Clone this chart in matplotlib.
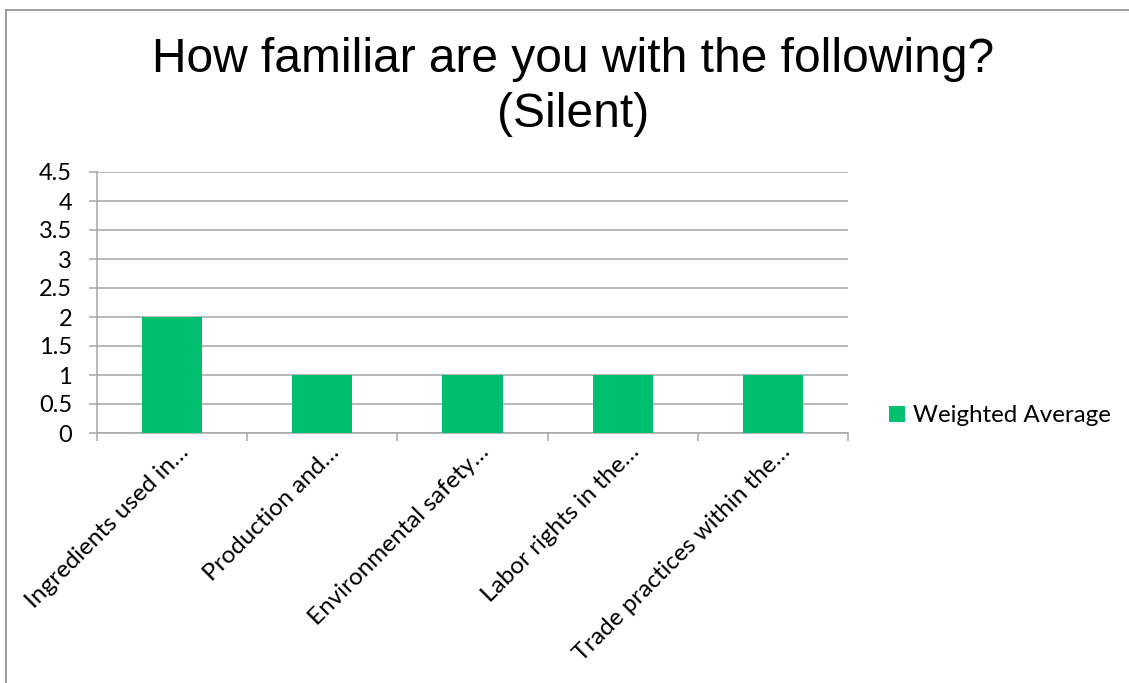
import matplotlib
matplotlib.use("Agg")
import matplotlib.pyplot as plt
import matplotlib.transforms as mtransforms
from matplotlib.lines import Line2D
import numpy as np

# chart data
categories = [
    "Ingredients used in\u2026",
    "Production and\u2026",
    "Environmental safety\u2026",
    "Labor rights in the\u2026",
    "Trade practices within the\u2026",
]
weighted_average = [2, 1, 1, 1, 1]
y_ticks = [0, 0.5, 1, 1.5, 2, 2.5, 3, 3.5, 4, 4.5]
y_tick_labels = ["0", "0.5", "1", "1.5", "2", "2.5", "3", "3.5", "4", "4.5"]

title = "How familiar are you with the following?\n(Silent)"
bar_color = "#00BF6F"
grid_color = "#A6A6A6"
label_font = ["Lato", "DejaVu Sans"]

W, H = 1129, 683
fig = plt.figure(figsize=(W / 100, H / 100), dpi=100)
fig.patch.set_facecolor("white")

# outer chart frame (only top and left visible in the reference)
fig.add_artist(Line2D([5.5 / W, 5.5 / W], [0, 1 - 9.5 / H], transform=fig.transFigure,
                      color="#8C8C8C", lw=1.2))
fig.add_artist(Line2D([5.5 / W, 1], [1 - 9.5 / H, 1 - 9.5 / H], transform=fig.transFigure,
                      color="#8C8C8C", lw=1.2))

ax = fig.add_axes([97 / W, (H - 433) / H, (848 - 97) / W, (433 - 172) / H])

x = np.arange(len(categories))
ax.bar(x, weighted_average, width=0.4, color=bar_color, label="Weighted Average", zorder=3)

ax.set_xlim(-0.5, len(categories) - 0.5)
ax.set_ylim(0, 4.5)

ax.set_yticks(y_ticks)
ax.set_yticklabels(y_tick_labels, fontfamily=label_font, fontsize=17)
ax.yaxis.grid(True, color=grid_color, lw=1.1, zorder=0)
ax.tick_params(axis="y", length=6, width=1.1, color=grid_color, pad=12)

ax.set_xticks(x)
ax.set_xticklabels(categories, rotation=45, ha="right", va="top",
                   rotation_mode="anchor", fontfamily=label_font, fontsize=17.5)
ax.set_xticks(np.arange(-0.5, len(categories)), minor=True)
ax.tick_params(axis="x", which="major", length=0, pad=6)
ax.tick_params(axis="x", which="minor", length=6, width=1.1, color=grid_color)

for side in ["top", "right"]:
    ax.spines[side].set_visible(False)
for side in ["left", "bottom"]:
    ax.spines[side].set_color(grid_color)
    ax.spines[side].set_linewidth(1.1)

# shift rotated labels a bit to the right, as in the reference
offset = mtransforms.ScaledTranslation(6 / 100, 0, fig.dpi_scale_trans)
for lbl in ax.get_xticklabels():
    lbl.set_transform(lbl.get_transform() + offset)

fig.text(573 / W, 1 - 87 / H, title, ha="center", va="center",
         fontfamily=["Liberation Sans", "DejaVu Sans"], fontsize=34.5, linespacing=1.3)

leg = fig.legend(loc="center left", bbox_to_anchor=(889 / W, 1 - 416 / H), frameon=False,
                 prop={"family": label_font, "size": 17.4}, handlelength=0.65, handleheight=0.65,
                 handletextpad=0.35, borderaxespad=0, borderpad=0)

fig.savefig("out.png", dpi=100, facecolor="white")
